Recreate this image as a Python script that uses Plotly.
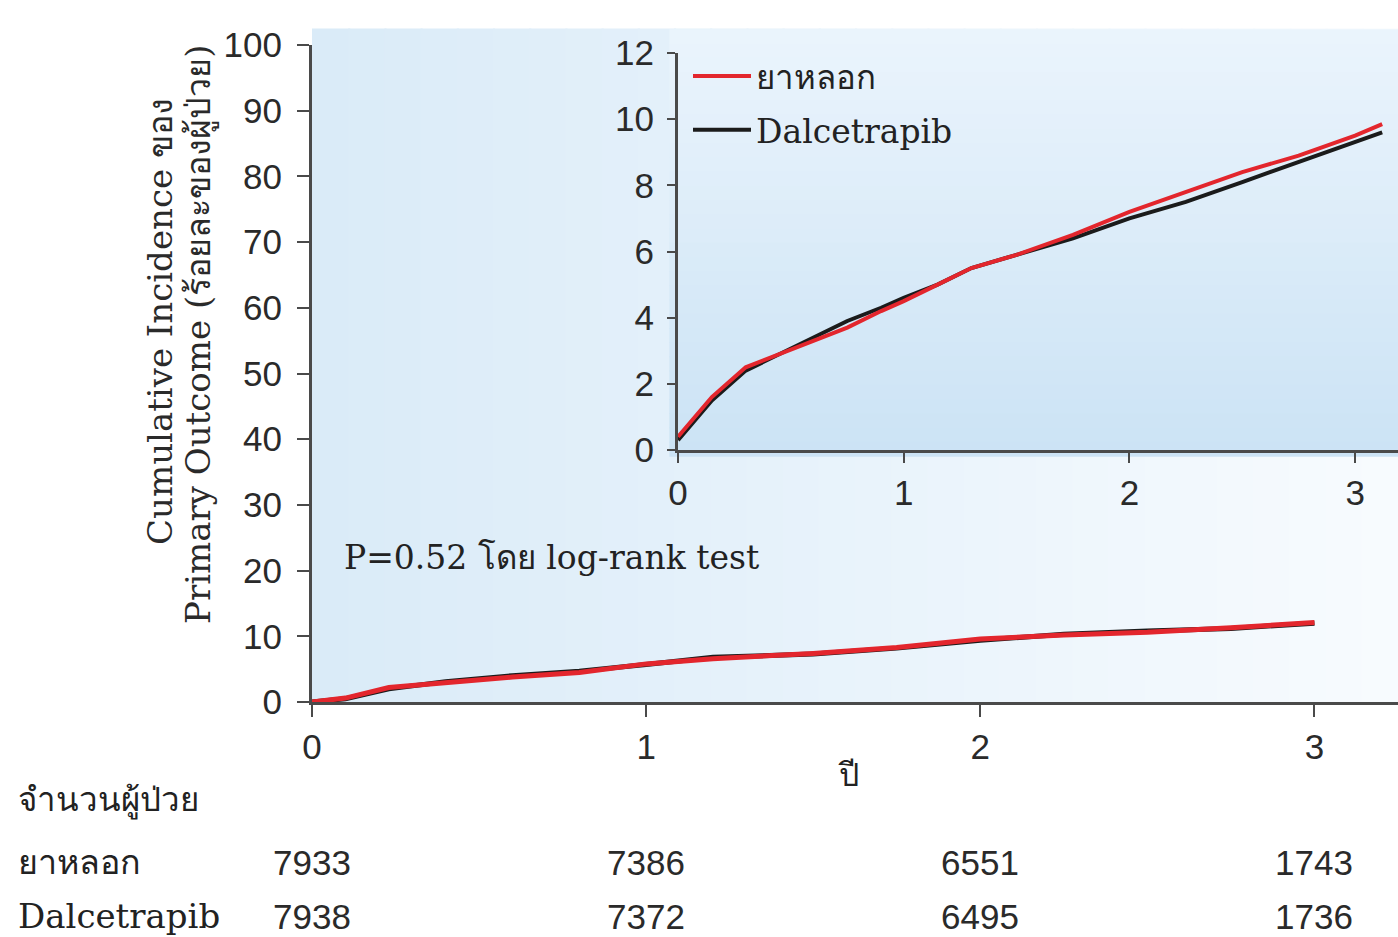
import plotly.graph_objects as go

# ---------------- data ----------------
years = [0, 1, 2, 3]
year_labels = ["0", "1", "2", "3"]

# main panel (cumulative incidence %, full 0-100 scale)
main_t = [0.0, 0.1, 0.23, 0.4, 0.6, 0.8, 1.0, 1.2, 1.5, 1.75, 2.0, 2.25, 2.5, 2.75, 3.0]
main_placebo = [0.0, 0.6, 2.2, 3.0, 3.8, 4.5, 5.8, 6.6, 7.4, 8.3, 9.6, 10.2, 10.6, 11.3, 12.1]
main_dal = [0.0, 0.5, 2.0, 3.1, 4.0, 4.7, 5.7, 6.8, 7.3, 8.2, 9.4, 10.3, 10.8, 11.2, 12.0]

# inset panel (0-12 scale)
ins_t = [0.0, 0.05, 0.15, 0.3, 0.45, 0.6, 0.75, 0.9, 1.0, 1.15, 1.3, 1.5, 1.75, 2.0, 2.25, 2.5, 2.75, 3.0, 3.12]
ins_placebo = [0.4, 0.8, 1.6, 2.5, 2.9, 3.3, 3.7, 4.2, 4.5, 5.0, 5.5, 5.9, 6.5, 7.2, 7.8, 8.4, 8.9, 9.5, 9.85]
ins_dal = [0.3, 0.7, 1.5, 2.4, 2.9, 3.4, 3.9, 4.3, 4.6, 5.0, 5.5, 5.9, 6.4, 7.0, 7.5, 8.1, 8.7, 9.3, 9.6]

series_names = ["ยาหลอก", "Dalcetrapib"]
at_risk_placebo = [7933, 7386, 6551, 1743]
at_risk_dal = [7938, 7372, 6495, 1736]

y_title_lines = ["Cumulative Incidence ของ", "Primary Outcome (ร้อยละของผู้ป่วย)"]
x_title = "ปี"
risk_header = "จำนวนผู้ป่วย"
p_text = "P=0.52 โดย log-rank test"

# ---------------- style ----------------
RED = "#e3262d"
BLACK = "#1b1b1b"
AX = "#4a4a4a"
SERIF = "DejaVu Serif, Liberation Serif, serif"
SANS = "Liberation Sans, Arial, sans-serif"
W, H = 1398, 937

fig = go.Figure()

# main panel traces (black first, red on top)
fig.add_trace(go.Scatter(x=main_t, y=main_dal, mode="lines", line=dict(color=BLACK, width=5),
                         showlegend=False, xaxis="x", yaxis="y"))
fig.add_trace(go.Scatter(x=main_t, y=main_placebo, mode="lines", line=dict(color=RED, width=5),
                         showlegend=False, xaxis="x", yaxis="y"))
# inset traces
fig.add_trace(go.Scatter(x=ins_t, y=ins_dal, mode="lines", name=series_names[1],
                         line=dict(color=BLACK, width=4), xaxis="x2", yaxis="y2",
                         legendrank=2, legendgroup="b"))
fig.add_trace(go.Scatter(x=ins_t, y=ins_placebo, mode="lines", name=series_names[0],
                         line=dict(color=RED, width=4), xaxis="x2", yaxis="y2",
                         legendrank=1, legendgroup="a"))

def px_x(p):
    return p / W

def px_y(p):
    return 1 - p / H

axis_common = dict(showline=True, linecolor=AX, linewidth=3, ticks="outside", tickcolor=AX,
                   tickwidth=2, showgrid=False, zeroline=False, automargin=False,
                   tickfont=dict(family=SANS, size=35, color="#2a2a2a"))

fig.update_layout(
    width=W, height=H,
    margin=dict(l=0, r=0, t=0, b=0, pad=0, autoexpand=False),
    paper_bgcolor="white",
    plot_bgcolor="rgba(0,0,0,0)",
    xaxis=dict(domain=[px_x(312), 1], range=[0, 3.25], tickvals=years, ticktext=year_labels,
               ticklen=12, anchor="y", **axis_common),
    yaxis=dict(domain=[px_y(702), px_y(45)], range=[0, 100], dtick=10, ticklen=12,
               ticklabelstandoff=8, anchor="x", **axis_common),
    xaxis2=dict(domain=[px_x(678), 1], range=[0, 3.19], tickvals=years, ticktext=year_labels,
                ticklen=10, anchor="y2", **axis_common),
    yaxis2=dict(domain=[px_y(450), px_y(53)], range=[0, 12], dtick=2, ticklen=8,
                ticklabelstandoff=6, anchor="x2", **axis_common),
    legend=dict(x=px_x(688), y=px_y(48), xanchor="left", yanchor="top", itemwidth=58,
                bgcolor="rgba(0,0,0,0)", font=dict(family=SERIF, size=33, color="#222"),
                traceorder="grouped", tracegroupgap=8),
    showlegend=True,
)

# gradient backgrounds built from layered strips
def lerp(c1, c2, f):
    return "rgb({},{},{})".format(*[round(a + (b - a) * f) for a, b in zip(c1, c2)])

shapes = []
n = 30
left_c, right_c = (218, 235, 248), (247, 251, 254)
for i in range(n):
    shapes.append(dict(type="rect", xref="x domain", yref="y domain",
                       x0=i / n, x1=(i + 1) / n + 0.002, y0=0, y1=1.025,
                       fillcolor=lerp(left_c, right_c, i / (n - 1)), line=dict(width=0),
                       layer="below"))
top_c, bot_c = (234, 244, 252), (204, 227, 245)
for i in range(n):
    shapes.append(dict(type="rect", xref="x2 domain", yref="y2 domain",
                       x0=-0.012, x1=1, y0=1.06 - (i + 1) * 1.075 / n - 0.002,
                       y1=1.06 - i * 1.075 / n,
                       fillcolor=lerp(top_c, bot_c, i / (n - 1)), line=dict(width=0),
                       layer="below"))
fig.update_layout(shapes=shapes)

ann = []
for line_text, xpix, ypix in [(y_title_lines[0], 160, 322), (y_title_lines[1], 198, 335)]:
    ann.append(dict(text=line_text, xref="paper", yref="paper", x=px_x(xpix), y=px_y(ypix),
                    xanchor="center", yanchor="middle", textangle=-90, showarrow=False,
                    font=dict(family=SERIF, size=34, color="#2a2a2a")))
ann.append(dict(text=x_title, xref="paper", yref="paper", x=px_x(848), y=px_y(775),
                xanchor="center", yanchor="middle",
                showarrow=False, font=dict(family=SERIF, size=32, color="#222")))
ann.append(dict(text=p_text, xref="x", yref="y", x=0.09, y=22.0, xanchor="left", yanchor="middle",
                showarrow=False, font=dict(family=SERIF, size=33, color="#222")))
ann.append(dict(text=risk_header, xref="paper", yref="paper", x=px_x(16), y=px_y(800),
                xanchor="left", yanchor="middle", showarrow=False,
                font=dict(family=SERIF, size=33, color="#222")))
for label, vals, ypix in [(series_names[0], at_risk_placebo, 862), (series_names[1], at_risk_dal, 916)]:
    ann.append(dict(text=label, xref="paper", yref="paper", x=px_x(16), y=px_y(ypix),
                    xanchor="left", yanchor="middle", showarrow=False,
                    font=dict(family=SERIF, size=34, color="#222")))
    for yr, v in zip(years, vals):
        ann.append(dict(text=str(v), xref="x", yref="paper", x=yr, y=px_y(ypix),
                        xanchor="center", yanchor="middle", showarrow=False,
                        font=dict(family=SANS, size=35, color="#2a2a2a")))
fig.update_layout(annotations=ann)

fig.write_html("out.html")
